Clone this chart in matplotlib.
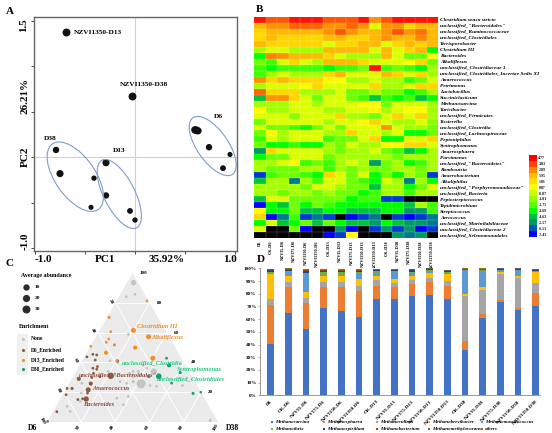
import numpy as np
from matplotlib import pyplot as plt
from matplotlib.colors import LinearSegmentedColormap, Normalize
from matplotlib.patches import Ellipse, Polygon, Rectangle

W, H = 552, 433
plt.rcParams['font.family'] = ['Liberation Serif', 'DejaVu Serif']
plt.rcParams['font.weight'] = 'bold'

# panel A, PCoA
a_single_x = [-0.69, -0.03]
a_single_y = [1.37, 0.67]
a_d6_x = [0.60, 0.615, 0.63, 0.74, 0.95, 0.88]
a_d6_y = [0.30, 0.295, 0.29, 0.11, 0.03, -0.12]
a_d13_x = [-0.29, -0.29, -0.05, 0.00]
a_d13_y = [-0.06, -0.42, -0.59, -0.69]
a_d38_x = [-0.79, -0.75, -0.41, -0.44]
a_d38_y = [0.08, -0.18, -0.23, -0.55]

# panel B, heatmap
genera = ['Clostridium sensu stricto', 'unclassified_"Bacteroidales"', 'unclassified_Ruminococcaceae',
          'unclassified_Clostridiales', 'Terrisporobacter', 'Clostridium III', 'Bacteroides', 'Alkaliflexus',
          'unclassified_Clostridiaceae 1', 'unclassified_Clostridiales_Incertae Sedis XI', 'Anaerococcus',
          'Petrimonas', 'Lactobacillus', 'Succiniclasticum', 'Methanosarcina', 'Turicibacter',
          'unclassified_Firmicutes', 'Tissierella', 'unclassified_Clostridia', 'unclassified_Lachnospiraceae',
          'Peptoniphilus', 'Syntrophomonas', 'Anaerosphaera', 'Parvimonas', 'unclassified_"Bacteroidetes"',
          'Romboutsia', 'Anaerobacterium', 'Alkaliphilus', 'unclassified_"Porphyromonadaceae"',
          'unclassified_Bacteria', 'Peptostreptococcus', 'Tepidimicrobium', 'Streptococcus', 'Aerococcus',
          'unclassified_Marinilabiliaceae', 'unclassified_Clostridiaceae 2', 'unclassified_Selenomonadales']
samples = ['D6', 'CK-D6', 'NZVI5-D6', 'NZVI75-D6', 'NZVI150-D6', 'NZVI1350-D6',
           'CK-D13', 'NZVI5-D13', 'NZVI75-D13', 'NZVI150-D13', 'NZVI1350-D13',
           'CK-D38', 'NZVI5-D38', 'NZVI75-D38', 'NZVI150-D38', 'NZVI1350-D38']
heat = [
    [4.5, 3.6, 3.6, 4.5, 4.5, 4.5, 3.6, 3.6, 3.6, 4.5, 2.7, 3.6, 4.5, 4.5, 4.5, 4.5],
    [2.0, 2.7, 2.7, 3.4, 3.4, 3.4, 2.7, 2.7, 3.4, 2.7, -0.6, 2.7, 2.7, 1.2, 2.0, 2.0],
    [1.2, 2.0, 2.0, 2.0, 2.0, 2.0, 2.7, 3.6, 2.7, 2.0, 2.0, 2.7, 3.6, 2.7, 3.2, 2.0],
    [1.2, 2.0, 1.2, 1.2, 1.2, 1.2, 2.0, 2.0, 1.2, 1.2, 2.0, 2.7, 2.0, 2.0, 2.9, 2.0],
    [2.0, 1.2, 1.2, 1.2, 1.2, 1.2, -0.6, 1.2, 1.2, 2.0, 2.0, -0.6, 1.2, 2.0, 1.2, 2.0],
    [-1.6, -0.6, -0.6, -1.6, -1.6, -1.6, 2.0, 2.0, 2.0, 2.0, -0.6, 2.0, -0.6, 1.2, 2.0, -3.69],
    [-3.69, 3.0, 2.7, 2.0, 2.0, 2.0, 1.2, -0.6, -1.6, -1.6, -1.6, 2.0, -0.6, -2.4, -2.4, 0.2],
    [-2.4, -3.0, -0.6, 1.2, -0.6, -1.6, 2.0, 2.0, 2.0, 1.2, -0.6, -0.6, -0.6, 0.2, 1.2, -2.4],
    [-3.0, -3.69, -3.0, -3.0, -3.0, -3.0, -3.69, -3.0, -3.0, -2.4, 4.5, -3.0, -2.4, -3.0, -3.69, -1.6],
    [-3.0, -1.6, -0.6, -1.6, -1.6, -1.6, 1.2, 2.0, -0.6, -0.6, -0.6, 2.0, 1.2, -0.6, 1.2, -1.6],
    [2.7, 1.2, 2.0, 1.2, 1.2, 1.2, 0.2, 0.2, -1.6, -1.6, -0.6, -1.6, -1.6, -3.0, -2.4, -0.6],
    [-1.6, -0.6, -0.6, -0.6, 0.2, 1.2, -0.6, -0.6, -0.6, -0.6, 1.2, -1.6, -1.6, -0.6, 1.2, 1.2],
    [3.4, 1.2, 1.2, 1.2, -1.6, -1.6, -1.6, -0.6, -2.4, -2.4, -1.6, -2.4, -2.4, -3.69, -3.0, -1.6],
    [-4.5, 2.7, 2.7, 1.2, -0.6, -2.4, -0.6, -0.6, -2.4, -3.0, -4.5, -3.0, -3.69, -3.0, -4.5, -3.69],
    [-1.6, -1.6, -1.6, -0.6, -0.6, -1.6, -0.6, -0.6, -0.6, 0.2, 0.2, -2.4, -0.6, -0.6, -0.6, -1.6],
    [0.2, -1.6, -1.6, -0.6, -0.6, -0.6, -1.6, -1.6, -0.6, -0.6, 0.2, -1.6, -0.6, 0.2, 0.2, -1.6],
    [-0.6, -0.6, -0.6, -2.0, -0.6, -0.6, -0.6, 1.2, -1.6, -1.6, -2.4, -0.6, 1.2, -0.6, 1.2, -1.6],
    [-2.4, -0.6, -0.6, -0.6, -0.6, -0.6, -1.6, -0.6, -0.6, 0.2, 1.2, -0.6, -1.6, -1.6, -0.6, -2.0],
    [-0.6, -2.4, -2.4, -3.0, -3.69, -2.4, -0.6, -2.4, -0.6, -0.6, -0.6, 2.7, -0.6, -1.6, -1.6, -2.4],
    [-2.4, 0.2, -1.6, -0.6, -0.6, -0.6, -1.6, -1.6, 1.2, -0.6, -0.6, -1.6, -0.6, -3.69, -3.69, -2.4],
    [-3.0, -0.6, -1.6, -0.6, -0.6, -0.6, -3.0, -2.4, -2.4, -0.6, 1.2, -3.69, -3.69, -0.6, -0.6, 1.2],
    [-2.4, -3.69, -3.69, -3.0, -3.69, -3.69, -1.6, -2.4, -0.6, -1.6, -1.6, 0.2, 0.2, 1.2, 1.2, -0.6],
    [-5.5, 1.2, -0.6, -0.6, -0.6, -0.6, -1.6, -2.4, -1.6, -1.6, -0.6, -2.4, -3.0, -4.5, -3.69, -1.6],
    [-3.69, -2.4, -2.4, -0.6, -0.6, -0.6, -2.4, -1.6, -1.6, -1.6, -1.6, -1.6, -2.4, -1.6, -1.6, -1.6],
    [-1.6, -1.6, -0.6, 0.2, -3.0, -2.4, -3.0, -1.6, -0.6, -1.6, -5.5, -2.4, -1.6, -3.69, -3.0, -1.6],
    [-1.6, -2.4, -2.4, -2.4, -1.6, -1.6, -3.0, -1.6, -2.4, -1.6, -2.4, -2.4, -1.6, -1.6, -2.4, -1.6],
    [-6.8, -3.0, -2.4, -2.4, -3.0, -3.69, 1.2, -0.6, -2.4, -0.6, -3.69, -2.4, -3.69, -1.6, -2.4, -6.8],
    [-4.5, -1.6, -1.6, -6.0, -1.6, -3.0, -0.6, -0.6, -2.4, -3.0, -3.69, -0.6, -1.6, -6.0, -1.6, -3.69],
    [-1.6, -1.6, -1.6, -1.6, -2.4, -0.6, -0.6, -1.6, -2.4, -2.4, -4.5, -1.6, -1.6, -3.69, -2.4, -0.6],
    [-1.6, -1.6, -2.4, -1.6, -1.6, -2.4, -1.6, -2.4, -2.4, -3.69, -3.0, -1.6, -1.6, -3.0, -1.6, -1.6],
    [-4.5, -0.6, -0.6, -2.4, -2.4, -2.4, -2.4, -2.4, -3.69, -3.0, -3.0, -6.8, -6.8, -9, -9, -9],
    [-7.45, -3.69, -4.5, -2.4, -3.69, -2.4, -3.0, -3.69, -3.69, -3.69, -3.69, -3.69, -3.69, -4.5, -1.6, -3.0],
    [0.2, -3.69, -3.69, -2.4, -4.5, -4.5, -3.69, -3.69, -4.5, -4.5, -4.5, -3.69, -3.69, -5.5, -5.5, -3.0],
    [1.2, -7.45, -6.0, -3.0, -6.8, -6.0, -6.8, -9, -7.45, -6.8, -6.0, -9, -6.8, -7.45, -6.8, -6.0],
    [-3.69, -0.6, -4.5, -3.69, -2.4, -4.5, -2.4, -3.69, -4.5, -4.5, -5.5, -3.69, -4.5, -5.5, -5.5, -6.0],
    [-0.6, -9, -9, -2.4, -7.45, -9, -9, -5.5, -7.45, -9, -6.8, -5.5, -6.8, -5.5, -7.45, -6.8],
    [-9, -9, -9, -9, -9, -9, -7.45, -6.8, 0.2, -9, -9, -9, -5.5, -6.0, -5.5, -9],
]
cbar_levels = [4.77, 3.83, 2.89, 1.95, 1.01, 0.07, -0.87, -1.81, -2.75, -3.69, -4.63, -5.57, -6.51, -7.45]
cbar_colors = ['#ff0000', '#ff4400', '#ff8800', '#ffbb00', '#ffdd00', '#ffff00', '#ccff00',
               '#99ff00', '#55ff00', '#00ff00', '#00bb44', '#009966', '#0055bb', '#0000ff']

# panel C, ternary plot (% D13, % D38, the rest is D6, abundance)
none_d13 = [93.5, 85.7, 84, 40.1, 25.6, 33.9, 33.9, 58.8, 41, 33.9, 32.7, 38.3, 30.5, 24.5, 24, 24.5, 1.1,
            7.1, 10.5, 26, 19.4, 13.8, 11.6, 16, 27.2, 26, 27.2, 31.6, 36.1, 33.9, 31.6, 17.1]
none_d38 = [3.9, 8.6, 4.4, 21.2, 42.2, 45.5, 33.5, 18.2, 16.4, 36.4, 32.1, 37.1, 35.2, 48, 52.1, 67, 94.9,
            10, 6.5, 7.4, 10.3, 12.5, 38.9, 32.8, 36.9, 33.6, 29.1, 38.6, 40.3, 18.9, 24, 39]
none_ab = [12, 1, 1, 3, 39, 18, 1, 1, 1, 2, 2, 1, 2, 1, 1, 1, 2,
           1, 1, 1, 1, 1, 1, 1, 2, 1, 1, 2, 1, 1, 2, 1]
d6_d13 = [31, 29, 25.8, 21.6, 15.4, 22.5, 22.5, 18.3, 15.1, 15.6, 19.4, 6.9, 0.4, 43.7, 45.4, 45, 41.6, 37.2,
          35.4, 36.1, 32.7, 29.8, 30.5, 41]
d6_d38 = [21.8, 4.1, 12.7, 13.3, 15.2, 0.5, 3.4, 2, 10.5, 13, 14, 2.3, 0.2, 1.5, 4.1, 6.6, 7.4, 10.9,
          11.4, 8.8, 10.8, 11.3, 15.8, 20.7]
d6_ab = [18, 6, 6, 10, 12, 1, 2, 1, 1, 1, 1, 1, 0.5, 1, 1, 1, 1, 1, 1, 1, 1, 1, 1, 2]
d13_d13 = [81.3, 70.2, 61.5, 57.2, 60.6, 50.8, 55.7, 53.5, 51.7, 46.5, 49.9, 42.8, 41]
d13_d38 = [17.8, 1.2, 19.8, 30.8, 7, 0.2, 8.3, 7.9, 13.6, 11.3, 26.6, 40.5, 20.3]
d13_ab = [1, 2, 10, 10, 1, 1, 1, 1, 2, 6, 6, 10, 1]
d38_d13 = [42.8, 38.1, 33.2, 30.7, 30.5, 26.1, 19.2, 20]
d38_d38 = [48.5, 52.3, 61.3, 50, 44.3, 59.8, 75.8, 79.9]
d38_ab = [1, 6, 2, 14, 2, 1, 2, 0.5]
legend_sizes = [10, 20, 30]
ternary_ticks = [20, 40, 60, 80, 100]

# panel D, stacked bars
bar_labels = samples
blue = [40.4, 64.8, 52.2, 68.5, 66.1, 61.7, 75.9, 76.1, 78.2, 78.7, 75.9, 35.4, 60.6, 73.5, 66.9, 70.3]
orange = [30.7, 20.5, 20.8, 16.8, 19.2, 20.5, 10.5, 9.2, 9.2, 10.3, 10.1, 7.4, 3.2, 1.5, 1.6, 10]
gray = [4.8, 3.7, 3.4, 3.7, 3.7, 3.6, 4.4, 3.4, 3.4, 3.4, 4.3, 35.2, 19.4, 20.3, 23.9, 8.4]
yellow = [19.4, 5, 5, 5, 5, 6.1, 3.2, 2.9, 3.4, 3.9, 5.2, 1.8, 1.8, 1.7, 1.8, 8.3]
lightblue = [0.5, 3, 13.9, 1, 1, 3.9, 2.6, 5.8, 1.3, 0.8, 1.1, 18.6, 13.2, 1.4, 4.2, 0.6]
green = [1.6, 0.8, 1.3, 1.8, 1.8, 1.2, 1, 0.6, 1.9, 1.3, 0.4, 0.2, 0.3, 0.3, 0.3, 0.6]
navy = [1, 1, 1.6, 1.2, 1.2, 1.1, 0.8, 0.6, 0.9, 0.8, 0.8, 0.3, 0.5, 0.5, 0.5, 0.4]
darkred = [0.3, 0.3, 0.2, 0.3, 0.3, 0.3, 0.3, 0.4, 0.4, 0.3, 0.4, 0.2, 0.3, 0.3, 0.3, 0.3]
dkgray = [0.5] * 16
others = [0.3] * 16
bar_series = [blue, orange, gray, yellow, lightblue, green, navy, darkred, dkgray, others]
bar_colors = ['#4472c4', '#ed7d31', '#a5a5a5', '#ffc000', '#5b9bd5', '#70ad47', '#264478', '#9e480e', '#636363', '#997300']
bar_names = ['Methanosarcina', 'Methanosphaera', 'Methanoculleus', 'Methanobrevibacter', 'Methanomassiliicoccus',
             'Methanothrix', 'Methanospirillum', 'Methanobacterium', 'Methanomethylovorans', 'others']


def ax_px(left, top, right, bottom):
    return fig.add_axes([left / W, 1 - bottom / H, (right - left) / W, (bottom - top) / H])


def ternary(d13, d38):
    d13 = np.asarray(d13, dtype=float)
    d38 = np.asarray(d38, dtype=float)
    return d38 + d13 / 2, d13 * np.sqrt(3) / 2


fig = plt.figure(figsize=(W / 100, H / 100), dpi=100)

# A
ax = ax_px(34, 17, 237, 251)
ax.set_xlim(-1.01, 1.02)
ax.set_ylim(-1.03, 1.54)
ax.axhline(0, color='#d0d0d0', lw=0.8)
ax.axvline(0, color='#d0d0d0', lw=0.8)
ax.scatter(a_single_x, a_single_y, s=22, color='#111111', zorder=3)
ax.scatter(a_d6_x, a_d6_y, s=[20, 20, 18, 13, 7, 10], color='#111111', zorder=3)
ax.scatter(a_d13_x, a_d13_y, s=[17, 13, 10, 8], color='#111111', zorder=3)
ax.scatter(a_d38_x, a_d38_y, s=[13, 17, 8, 7], color='#111111', zorder=3)
ax.set_xticks([-1, -0.5, 0, 0.5, 1])
ax.set_yticks([-1, -0.5, 0, 0.5, 1, 1.5])
ax.set_xticklabels([])
ax.set_yticklabels([])
ax.tick_params(length=2, width=0.7, color='#444444')
for s in ax.spines.values():
    s.set_color('#666666')
    s.set_linewidth(1)

# B
ax = ax_px(254, 17, 438, 238)
cmap_pos = (np.array(cbar_levels[::-1]) - cbar_levels[-1]) / (cbar_levels[0] - cbar_levels[-1])
heat_cmap = LinearSegmentedColormap.from_list('heat', list(zip(cmap_pos, cbar_colors[::-1])), N=512)
heat_cmap.set_under('black')
norm = Normalize(cbar_levels[-1], cbar_levels[0])
ax.pcolormesh(np.array(heat), cmap=heat_cmap, norm=norm, linewidth=0)
ax.hlines(np.arange(1, 37), 0, 16, color='white', lw=0.3, alpha=0.45)
ax.vlines(np.arange(1, 16), 0, 37, color='white', lw=0.3, alpha=0.45)
ax.set_xlim(0, 16)
ax.set_ylim(37, 0)
ax.set_xticks(np.arange(16) + 0.5)
ax.set_xticklabels(samples, rotation=90, fontsize=3.2)
ax.set_yticks(np.arange(37) + 0.5)
ax.set_yticklabels(genera, fontsize=3.9, style='italic')
ax.yaxis.tick_right()
ax.tick_params(length=0, pad=1.5)
for s in ax.spines.values():
    s.set_visible(False)

cb = ax_px(529, 155, 537, 237)
cb.pcolormesh(np.array(cbar_levels).reshape(-1, 1), cmap=heat_cmap, norm=norm)
cb.invert_yaxis()
cb.set_xticks([])
cb.set_yticks(np.arange(14) + 0.5)
cb.set_yticklabels([f'{v:.2f}' for v in cbar_levels], fontsize=2.8)
cb.yaxis.tick_right()
cb.tick_params(length=0, pad=1)
for s in cb.spines.values():
    s.set_visible(False)

# C
ax = ax_px(47, 273, 218, 422)
ax.set_xlim(0, 100)
ax.set_ylim(0, 100 * np.sqrt(3) / 2)
ax.axis('off')
ax.add_patch(Polygon([ternary(0, 0), ternary(0, 100), ternary(100, 0)], closed=True, fc='#ebebeb', ec='none', clip_on=False))
for v in ternary_ticks[:-1]:
    ax.plot(*ternary([v, v], [0, 100 - v]), color='white', lw=0.7, clip_on=False)
    ax.plot(*ternary([0, 100 - v], [v, v]), color='white', lw=0.7, clip_on=False)
    ax.plot(*ternary([0, 100 - v], [100 - v, 0]), color='white', lw=0.7, clip_on=False)
for v in ternary_ticks:
    ax.annotate(str(v), ternary(v, 100 - v), xytext=(5, 0), textcoords='offset points', fontsize=3.6, va='center', ha='left')
    ax.annotate(str(v), ternary(100 - v, 0), xytext=(-3.5, 1), textcoords='offset points', fontsize=3.6,
                rotation=-60, va='center', ha='center')
    ax.annotate(str(v), ternary(0, v), xytext=(-2, -4), textcoords='offset points', fontsize=3.6,
                rotation=60, va='center', ha='center')
for d13, d38, ab, col in [(none_d13, none_d38, none_ab, '#c4c4c4'), (d6_d13, d6_d38, d6_ab, '#8f5a3c'),
                          (d13_d13, d13_d38, d13_ab, '#f28e2b'), (d38_d13, d38_d38, d38_ab, '#12a172')]:
    ax.scatter(*ternary(d13, d38), s=np.array(ab) + 3, color=col, linewidths=0, clip_on=False, zorder=3)

# D
ax = ax_px(260, 268.3, 540, 395.3)
ax.set_xlim(-0.6, 15.25)
ax.set_ylim(0, 100)
bottom = np.zeros(16)
for vals, col in zip(bar_series, bar_colors):
    ax.bar(np.arange(16), vals, 0.38, bottom=bottom, color=col)
    bottom += np.array(vals)
ax.set_yticks(np.arange(0, 101, 10))
ax.set_yticklabels([f'{v}%' for v in range(0, 101, 10)], fontsize=3.7)
ax.set_xticks(np.arange(16))
ax.set_xticklabels(bar_labels, rotation=45, ha='right', rotation_mode='anchor', fontsize=3.7)
ax.tick_params(axis='y', length=1.5, width=0.4, pad=1, color='#777777')
ax.tick_params(axis='x', length=0, pad=3)
ax.spines[['top', 'right']].set_visible(False)
ax.spines[['left', 'bottom']].set_color('#888888')
ax.spines[['left', 'bottom']].set_linewidth(0.6)

# everything placed by pixel on top of the panels
ov = fig.add_axes([0, 0, 1, 1])
ov.set_xlim(0, W)
ov.set_ylim(H, 0)
ov.axis('off')
ov.patch.set_visible(False)

for t, x, y in [('A', 10, 11), ('B', 260, 10), ('C', 10, 263), ('D', 261, 259)]:
    ov.text(x, y, t, fontsize=8, ha='center', va='center')

# A labels
ov.text(24, 25, '1.5', fontsize=8, rotation=90, ha='center', va='center')
ov.text(25, 96, '26.21%', fontsize=8, rotation=90, ha='center', va='center')
ov.text(25, 157, 'PC2', fontsize=8, rotation=90, ha='center', va='center')
ov.text(25, 241, '-1.0', fontsize=8, rotation=90, ha='center', va='center')
for t, x in [('-1.0', 43), ('PC1', 105), ('35.92%', 167), ('1.0', 230)]:
    ov.text(x, 260, t, fontsize=8, ha='center', va='center')
ov.text(74, 33, 'NZVI1350-D13', fontsize=5.3, ha='left', va='center')
ov.text(144, 85, 'NZVI1350-D38', fontsize=5.3, ha='center', va='center')
ov.text(50, 138, 'D38', fontsize=5.3, ha='center', va='center')
ov.text(119, 150, 'D13', fontsize=5.3, ha='center', va='center')
ov.text(218, 117, 'D6', fontsize=5.3, ha='center', va='center')
for cx, cy, w, h, ang in [(212.7, 146, 69, 31, 55), (75.3, 176.7, 80, 40, 55), (119.3, 194, 76, 31, 63)]:
    ov.add_patch(Ellipse((cx, cy), w, h, angle=ang, fc='none', ec='#7d9ccf', lw=0.8))

# C legend and labels
ov.text(21, 275, 'Average abundance', fontsize=4.3, ha='left', va='center')
for ab, y in zip(legend_sizes, [287, 298, 309]):
    ov.scatter([26], [y], s=15 + 0.6 * ab, color='#2b2b2b', linewidths=0)
    ov.text(35, y, str(ab), fontsize=3.9, ha='left', va='center')
ov.text(19, 326, 'Enrichment', fontsize=4.3, ha='left', va='center')
ov.add_patch(Rectangle((17, 334), 11, 41, fc='#f0f0f0', ec='none'))
for name, col, y in [('None', '#c4c4c4', 339), ('D6_Enriched', '#8f5a3c', 350),
                     ('D13_Enriched', '#f28e2b', 360), ('D38_Enriched', '#12a172', 369)]:
    ov.scatter([22.5], [y], s=5, color=col, linewidths=0)
    ov.text(31, y, name, fontsize=4, ha='left', va='center')
for t, x, y, col in [('Clostridium III', 137, 327, '#f28e2b'), ('Alkaliflexus', 151, 338, '#f28e2b'),
                     ('unclassified_Clostridia', 122, 364, '#1fc77a'), ('Syntrophomonas', 177, 370, '#1fc77a'),
                     ('unclassified_Clostridiales', 157, 380, '#1fc77a'),
                     ('unclassified_"Bacteroidales"', 79, 375, '#8b4a3a'), ('Anaerococcus', 92, 389, '#8b4a3a'),
                     ('Bacteroides', 83, 404, '#8b4a3a')]:
    ov.text(x, y, t, fontsize=4.6, style='italic', color=col, ha='left', va='center')
ov.text(33, 428, 'D6', fontsize=5.5, ha='center', va='center')
ov.text(233, 428, 'D38', fontsize=5.5, ha='center', va='center')

# D legend
for i, (name, col) in enumerate(zip(bar_names, bar_colors)):
    x = [271.7, 324, 376.7, 429.3, 482.3][i % 5]
    y = [422.3, 429.3][i // 5]
    ov.scatter([x], [y], s=2.5, marker='s', color=col, linewidths=0)
    ov.text(x + 3, y, name, fontsize=3.6, style='italic', ha='left', va='center')

fig.savefig('out.png', dpi=100)
